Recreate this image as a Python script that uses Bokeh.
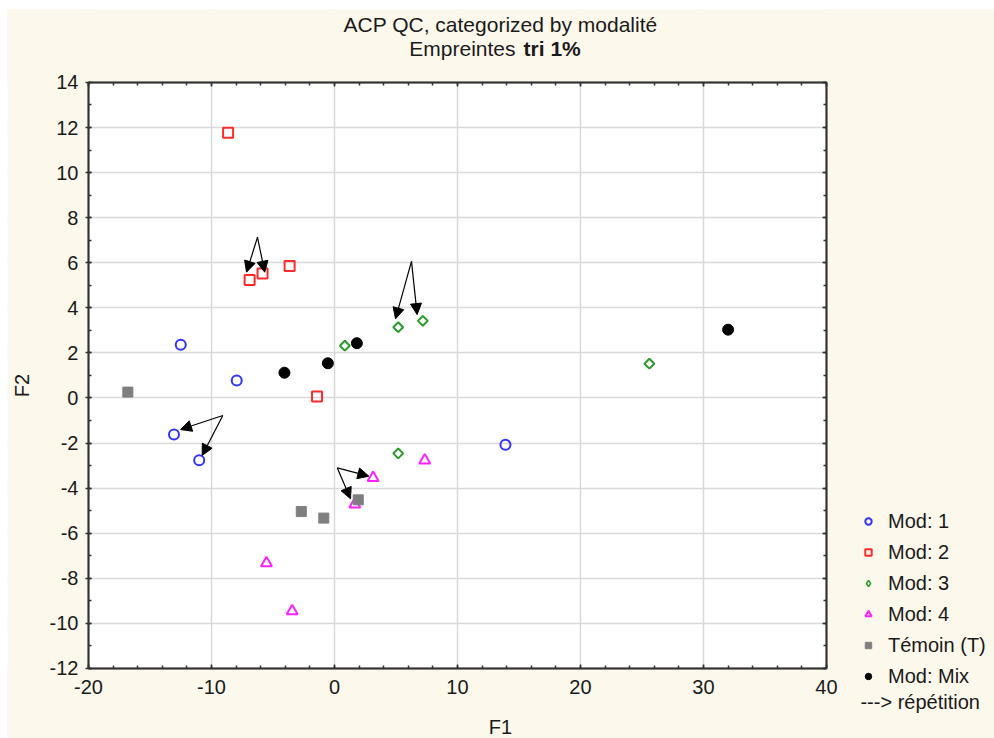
from bokeh.plotting import figure
from bokeh.models import (Range1d, SingleIntervalTicker, Legend, LegendItem, Label,
                          Arrow, NormalHead, ColumnDataSource, LinearAxis, BoxAnnotation,
                          PrintfTickFormatter)
from bokeh.embed import file_html
from bokeh.resources import INLINE

# ---------------- data ----------------
mod1_x = [-12.5, -7.95, -13.05, -11.0, 13.9]
mod1_y = [2.36, 0.77, -1.62, -2.76, -2.08]
mod2_x = [-8.65, -6.9, -5.85, -3.65, -1.42]
mod2_y = [11.77, 5.23, 5.52, 5.86, 0.07]
mod3_x = [0.84, 5.18, 7.18, 25.6, 5.18]
mod3_y = [2.32, 3.14, 3.42, 1.52, -2.46]
mod4_x = [3.14, 7.34, 1.65, -5.53, -3.44]
mod4_y = [-3.54, -2.77, -4.72, -7.33, -9.46]
temoin_x = [-16.8, -2.7, -0.87, 1.93]
temoin_y = [0.26, -5.04, -5.33, -4.52]
mix_x = [-4.07, -0.54, 1.82, 32.0]
mix_y = [1.12, 1.54, 2.43, 3.03]

# "répétition" arrows (start -> end), in data units
arrow_x_start = [-6.26, -6.26, 6.26, 6.26, -9.08, -9.08, 0.22, 0.22]
arrow_y_start = [7.13, 7.13, 6.06, 6.06, -0.78, -0.78, -3.10, -3.10]
arrow_x_end = [-7.15, -5.67, 4.96, 6.72, -12.52, -10.76, 2.79, 1.30]
arrow_y_end = [5.58, 5.58, 3.51, 3.70, -1.40, -2.55, -3.47, -4.47]

x_min, x_max = -20, 40
y_min, y_max = -12, 14
legend_labels = ["Mod: 1", "Mod: 2", "Mod: 3", "Mod: 4", "Témoin (T)", "Mod: Mix"]
title_line1 = "ACP QC, categorized by modalité"
title_line2a = "Empreintes"
title_line2b = "tri 1%"
x_label = "F1"
y_label = "F2"
note_label = "---> répétition"

FONT = "Liberation Sans"
CREAM = "#fdf8ec"
TXT = "#1a1a1a"
AX = "#333333"

# The frame covers the whole canvas; the plotting box is [-20,40]x[-12,14]
# (page px 88..826 horizontally, 82..668 vertically).
p = figure(width=987, height=729, output_backend="svg", toolbar_location=None,
           x_range=Range1d(-26.585, 53.659), y_range=Range1d(-15.110, 17.236),
           min_border=0)
p.margin = (9, 0, 0, 7)
p.background_fill_color = "white"
p.border_fill_color = CREAM
p.outline_line_color = None

xt = SingleIntervalTicker(interval=10, num_minor_ticks=5)
yt = SingleIntervalTicker(interval=2, num_minor_ticks=2)
p.xaxis.ticker = xt
p.yaxis.ticker = yt
p.xgrid.ticker = xt
p.ygrid.ticker = yt
for g in (p.xgrid, p.ygrid):
    g.grid_line_color = "#d9d9d9"
    g.grid_line_width = 1.5

# cream margins around the plotting box (hide grid outside it)
p.quad(left=[-40, x_max, -40, -40], right=[x_min, 70, 70, 70],
       bottom=[-30, -30, y_max, -30], top=[30, 30, 30, y_min],
       fill_color=CREAM, line_color=None)

xa, ya = p.xaxis[0], p.yaxis[0]
xa.fixed_location = y_min
xa.bounds = (x_min, x_max)
ya.fixed_location = x_min
ya.bounds = (y_min, y_max)
for ax in (xa, ya):
    ax.formatter = PrintfTickFormatter(format="%d")
    ax.axis_line_color = AX
    ax.axis_line_width = 2
    ax.major_tick_line_color = AX
    ax.minor_tick_line_color = AX
    ax.major_tick_line_width = 1.5
    ax.minor_tick_line_width = 1.5
    ax.major_label_text_font = FONT
    ax.major_label_text_font_size = "20px"
    ax.major_label_text_color = TXT
xa.major_tick_in = 4
xa.major_tick_out = 0
xa.minor_tick_in = 3
xa.minor_tick_out = 0
xa.major_label_standoff = 12
ya.major_tick_in = 3
ya.major_tick_out = 3
ya.minor_tick_in = 3
ya.minor_tick_out = 0
ya.major_label_standoff = 7

# top and right frame axes: inward ticks only, no labels
top_ax = LinearAxis(fixed_location=y_max, bounds=(x_min, x_max),
                    ticker=SingleIntervalTicker(interval=10, num_minor_ticks=5))
right_ax = LinearAxis(fixed_location=x_max, bounds=(y_min, y_max),
                      ticker=SingleIntervalTicker(interval=2, num_minor_ticks=2))
for ax in (top_ax, right_ax):
    ax.axis_line_color = AX
    ax.axis_line_width = 2
    ax.major_tick_line_color = AX
    ax.minor_tick_line_color = AX
    ax.major_tick_line_width = 1.5
    ax.minor_tick_line_width = 1.5
    ax.major_tick_in = 4
    ax.major_tick_out = 0
    ax.minor_tick_in = 3
    ax.minor_tick_out = 0
    ax.major_label_text_color = None
p.add_layout(top_ax, "above")
p.add_layout(right_ax, "right")

# ---------------- points ----------------
r1 = p.scatter(mod1_x, mod1_y, marker="circle", size=10, fill_color=None,
               line_color="#3333ff", line_width=2)
r2 = p.scatter(mod2_x, mod2_y, marker="square", size=10, fill_color=None,
               line_color="#ff2a2a", line_width=2)
r3 = p.scatter(mod3_x, mod3_y, marker="square", angle=0.7854, size=7, fill_color=None,
               line_color="#2a9a2a", line_width=2)
r4 = p.scatter(mod4_x, mod4_y, marker="triangle", size=11, fill_color=None,
               line_color="#ff22ff", line_width=2)
r5 = p.scatter(temoin_x, temoin_y, marker="square", size=10, fill_color="#7f7f7f",
               line_color="#7f7f7f", line_width=1)
r6 = p.scatter(mix_x, mix_y, marker="circle", size=11, fill_color="black",
               line_color="black", line_width=1)
# legend swatch for Mod 3 (a diamond; the legend does not rotate markers).
# Its only point lies outside the visible ranges.
r3_key = p.scatter(mod3_x[:1], [-100], marker="diamond", size=10, fill_color=None,
                   line_color="#2a9a2a", line_width=1.5)

# ---------------- arrows ----------------
asrc = ColumnDataSource(dict(x0=arrow_x_start, y0=arrow_y_start,
                             x1=arrow_x_end, y1=arrow_y_end))
p.add_layout(Arrow(x_start="x0", y_start="y0", x_end="x1", y_end="y1", source=asrc,
                   line_color="black", line_width=1.2,
                   end=NormalHead(size=11, fill_color="black", line_color="black",
                                  line_width=1)))

# frame outline
p.add_layout(BoxAnnotation(left=x_min, right=x_max, bottom=y_min, top=y_max,
                           fill_alpha=0, line_color=AX, line_width=2))

# ---------------- legend ----------------
items = [LegendItem(label=l, renderers=[r]) for l, r in
         zip(legend_labels, [r1, r2, r3_key, r4, r5, r6])]
leg = Legend(items=items, location=(853, 50), padding=0, margin=0, spacing=7,
             glyph_width=16, glyph_height=24, label_height=24, label_standoff=12,
             label_text_font=FONT, label_text_font_size="20px", label_text_color=TXT,
             border_line_color=None, background_fill_alpha=0)
p.add_layout(leg, "center")

# ---------------- texts ----------------
def lab(x, y, text, align="center", style="normal", angle=0, size="20px"):
    p.add_layout(Label(x=x, y=y, text=text, text_align=align, text_baseline="middle",
                       text_font=FONT, text_font_size=size, text_font_style=style,
                       text_color=TXT, angle=angle))

lab(13.5, 16.57, title_line1, size="21px")
lab(14.72, 15.51, title_line2a, align="right", size="21px")
lab(15.37, 15.51, title_line2b, align="left", style="bold", size="21px")
lab(13.5, -14.62, x_label)
lab(-25.37, 0.55, y_label, angle=1.5708)
lab(42.76, -13.47, note_label, align="left")

open("out.html", "w").write(file_html(p, INLINE))
